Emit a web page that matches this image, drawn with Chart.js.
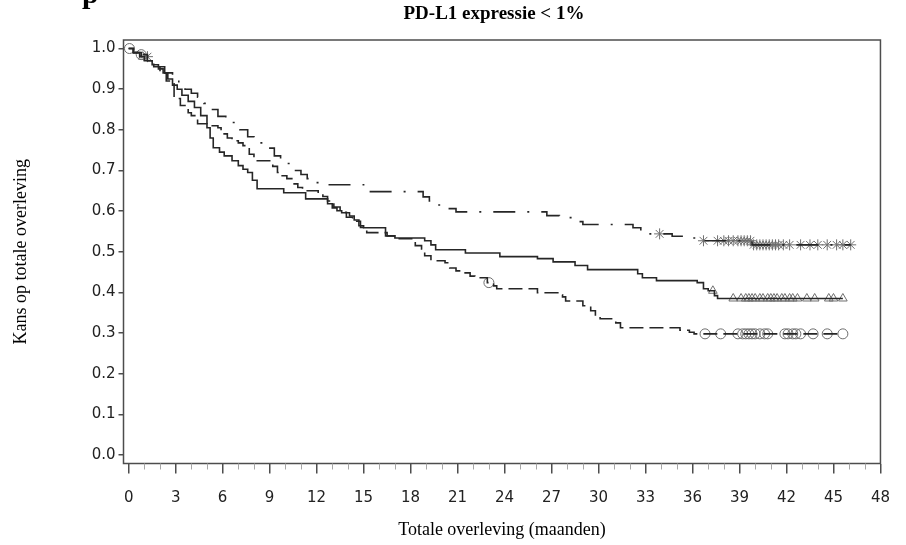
<!DOCTYPE html>
<html lang="nl">
<head>
<meta charset="UTF-8">
<title>PD-L1 expressie &lt; 1%</title>
<script src="https://cdn.jsdelivr.net/npm/chart.js"></script>
<style>
  html, body { margin: 0; padding: 0; background: #fff; }
  canvas { display: block; }
</style>
</head>
<body>
<canvas id="km" width="906" height="545"></canvas>
<script>
// Kaplan-Meier curves: event times (months) and survival after each step
const timesA = [0, 0.3, 0.8, 1.3, 1.8, 2.3, 2.8, 3.2, 3.6, 4.0, 4.4, 4.8, 5.2, 5.7, 6.2, 6.6, 7.1, 7.6, 8.0, 8.4, 8.9, 9.3, 9.7, 10.0, 10.5, 11.0, 11.4, 11.8, 12.3, 15.0, 18.8, 19.2, 19.6, 20.3, 20.9, 26.7, 27.5, 28.4, 29.0, 32.2, 32.7, 33.2, 34.7, 35.6, 36.3, 39.8];
const survA  = [1.0, 0.99, 0.98, 0.97, 0.955, 0.94, 0.925, 0.91, 0.90, 0.89, 0.88, 0.865, 0.85, 0.833, 0.826, 0.818, 0.80, 0.783, 0.775, 0.768, 0.755, 0.736, 0.726, 0.717, 0.70, 0.69, 0.68, 0.67, 0.665, 0.648, 0.635, 0.625, 0.615, 0.606, 0.598, 0.589, 0.584, 0.574, 0.567, 0.559, 0.551, 0.544, 0.538, 0.534, 0.527, 0.517];
const censorA = [1.2, 33.9, 36.7, 37.6, 38.0, 38.3, 38.6, 38.9, 39.1, 39.3, 39.5, 39.7, 39.9, 40.1, 40.3, 40.5, 40.7, 40.9, 41.1, 41.3, 41.5, 41.8, 42.2, 42.9, 43.5, 44.0, 44.6, 45.2, 45.6, 46.1];

const timesB = [0, 0.3, 0.7, 1.0, 1.5, 1.9, 2.2, 2.5, 2.8, 3.1, 3.4, 3.8, 4.2, 4.6, 5.0, 5.2, 5.4, 5.8, 6.1, 6.6, 7.0, 7.3, 7.6, 7.9, 8.2, 9.9, 11.3, 12.7, 13.0, 13.3, 13.6, 14.1, 14.4, 14.7, 15.0, 16.4, 17.0, 18.9, 19.3, 19.6, 21.5, 23.7, 26.1, 27.1, 28.5, 29.3, 32.5, 32.8, 33.7, 36.3, 36.7, 37.0, 37.4, 37.6];
const survB  = [1.0, 0.99, 0.98, 0.97, 0.96, 0.95, 0.94, 0.925, 0.91, 0.90, 0.885, 0.87, 0.855, 0.835, 0.805, 0.78, 0.756, 0.745, 0.736, 0.724, 0.712, 0.703, 0.695, 0.676, 0.655, 0.645, 0.63, 0.618, 0.608, 0.601, 0.596, 0.588, 0.578, 0.564, 0.559, 0.539, 0.534, 0.527, 0.517, 0.505, 0.497, 0.488, 0.483, 0.475, 0.466, 0.456, 0.446, 0.436, 0.429, 0.424, 0.409, 0.404, 0.392, 0.385];
const censorB = [0.9, 37.3, 38.6, 39.1, 39.4, 39.6, 39.8, 40.0, 40.3, 40.5, 40.8, 41.0, 41.2, 41.4, 41.7, 41.9, 42.2, 42.4, 42.7, 43.3, 43.8, 44.7, 45.0, 45.6];

const timesC = [0, 0.3, 0.8, 1.2, 1.6, 2.0, 2.4, 2.9, 3.3, 3.8, 4.0, 4.4, 5.0, 5.7, 5.9, 6.3, 6.6, 7.0, 7.3, 7.7, 8.0, 9.2, 9.5, 9.8, 10.1, 10.5, 10.8, 11.1, 12.1, 12.4, 12.7, 13.1, 13.5, 13.9, 14.3, 14.8, 15.2, 16.5, 17.1, 18.3, 18.7, 18.9, 19.3, 20.2, 20.5, 20.9, 21.3, 21.8, 22.1, 22.9, 23.3, 23.5, 26.1, 27.4, 27.7, 27.9, 29.0, 29.5, 29.8, 30.1, 31.1, 31.4, 35.2, 35.8, 36.1];
const survC  = [1.0, 0.99, 0.985, 0.97, 0.955, 0.94, 0.92, 0.877, 0.86, 0.842, 0.835, 0.815, 0.81, 0.805, 0.79, 0.78, 0.773, 0.768, 0.761, 0.74, 0.724, 0.71, 0.695, 0.687, 0.68, 0.667, 0.658, 0.65, 0.643, 0.636, 0.625, 0.61, 0.597, 0.585, 0.575, 0.56, 0.547, 0.539, 0.532, 0.515, 0.507, 0.49, 0.478, 0.473, 0.46, 0.453, 0.448, 0.44, 0.436, 0.424, 0.416, 0.409, 0.399, 0.394, 0.389, 0.379, 0.367, 0.355, 0.342, 0.335, 0.325, 0.313, 0.307, 0.302, 0.298];
const censorC = [0.05, 0.8, 23.0, 36.8, 37.8, 38.9, 39.2, 39.4, 39.6, 39.8, 40.0, 40.3, 40.6, 40.8, 41.9, 42.1, 42.4, 42.6, 42.9, 43.7, 44.6, 45.6];

const xTicks = [0, 3, 6, 9, 12, 15, 18, 21, 24, 27, 30, 33, 36, 39, 42, 45, 48];
const yTicks = [0.0, 0.1, 0.2, 0.3, 0.4, 0.5, 0.6, 0.7, 0.8, 0.9, 1.0];

const LINE = '#262626';
const MARK = '#6e6e6e';
const SERIF = "'Liberation Serif', 'Times New Roman', serif";
const SANS = "'DejaVu Sans', Verdana, sans-serif";

function survAt(times, surv, t) {
  let v = surv[0];
  for (let i = 0; i < times.length; i++) {
    if (times[i] <= t) v = surv[i];
  }
  return v;
}

function curve(times, surv, censor) {
  const pts = times.map((t, i) => ({ x: t, y: surv[i] }));
  const last = censor[censor.length - 1];
  pts.push({ x: last, y: survAt(times, surv, last) });
  return pts;
}

function marks(times, surv, censor) {
  return censor.map(t => ({ x: t, y: survAt(times, surv, t) }));
}

const lineBase = { pointRadius: 0, stepped: true, borderColor: LINE, borderWidth: 1.6, fill: false };
const markBase = { showLine: false, pointRadius: 5, borderColor: MARK, backgroundColor: 'rgba(0,0,0,0)', pointBorderWidth: 1 };

// frame round the plot area, minor x ticks, heading
const framePlugin = {
  id: 'frame',
  afterDraw(chart) {
    const { ctx, chartArea: a, scales: { x } } = chart;
    ctx.save();
    ctx.strokeStyle = '#4d4d4d';
    ctx.lineWidth = 1.5;
    ctx.strokeRect(a.left, a.top, a.right - a.left, a.bottom - a.top);
    ctx.strokeStyle = '#a6a6a6';
    ctx.lineWidth = 1;
    for (let m = 1; m < 48; m++) {
      if (m % 3 === 0) continue;
      const px = Math.round(x.getPixelForValue(m)) + 0.5;
      ctx.beginPath();
      ctx.moveTo(px, a.bottom);
      ctx.lineTo(px, a.bottom + 6);
      ctx.stroke();
    }
    ctx.fillStyle = '#000';
    ctx.textAlign = 'center';
    ctx.textBaseline = 'middle';
    ctx.font = 'bold 19px ' + SERIF;
    ctx.fillText('PD-L1 expressie < 1%', (a.left + a.right) / 2 - 8, 14);
    ctx.textAlign = 'left';
    ctx.textBaseline = 'alphabetic';
    ctx.font = 'bold 30px ' + SERIF;
    ctx.fillText('p', 82, 3);
    ctx.restore();
  }
};

new Chart(document.getElementById('km'), {
  type: 'line',
  data: {
    datasets: [
      { ...lineBase, data: curve(timesA, survA, censorA), borderDash: [22, 12, 2, 12] },
      { ...lineBase, data: curve(timesB, survB, censorB) },
      { ...lineBase, data: curve(timesC, survC, censorC), borderDash: [14, 6] },
      { ...markBase, data: marks(timesA, survA, censorA), pointStyle: 'star', pointRadius: 5.5 },
      { ...markBase, data: marks(timesB, survB, censorB), pointStyle: 'triangle' },
      { ...markBase, data: marks(timesC, survC, censorC), pointStyle: 'circle' }
    ]
  },
  options: {
    responsive: false,
    animation: false,
    layout: { padding: { left: 0, right: 24, top: 40, bottom: 0 } },
    plugins: {
      legend: { display: false },
      tooltip: { enabled: false },
      title: { display: false }
    },
    scales: {
      x: {
        type: 'linear',
        min: -0.33,
        max: 48,
        afterBuildTicks: s => { s.ticks = xTicks.map(v => ({ value: v })); },
        afterFit: s => { s.height = 81.5; },
        border: { display: false },
        grid: { drawOnChartArea: false, drawTicks: true, tickLength: 10, color: '#4d4d4d', lineWidth: 1.5 },
        ticks: {
          padding: 16,
          color: '#222',
          font: { family: SANS, size: 15 },
          maxRotation: 0,
          autoSkip: false,
          callback: v => String(v)
        },
        title: {
          display: true,
          text: 'Totale overleving (maanden)',
          color: '#000',
          font: { family: SERIF, size: 18 },
          padding: { top: 0, bottom: 4 }
        }
      },
      y: {
        type: 'linear',
        min: -0.021,
        max: 1.021,
        afterBuildTicks: s => { s.ticks = yTicks.map(v => ({ value: v })); },
        afterFit: s => { s.width = 123.5; },
        border: { display: false },
        grid: { drawOnChartArea: false, drawTicks: true, tickLength: 5, color: '#4d4d4d', lineWidth: 1.5 },
        ticks: {
          padding: 3,
          color: '#222',
          font: { family: SANS, size: 15 },
          callback: v => Number(v).toFixed(1)
        },
        title: {
          display: true,
          text: 'Kans op totale overleving',
          color: '#000',
          font: { family: SERIF, size: 18 },
          padding: { top: 10, bottom: 0 }
        }
      }
    }
  },
  plugins: [framePlugin]
});
</script>
</body>
</html>
